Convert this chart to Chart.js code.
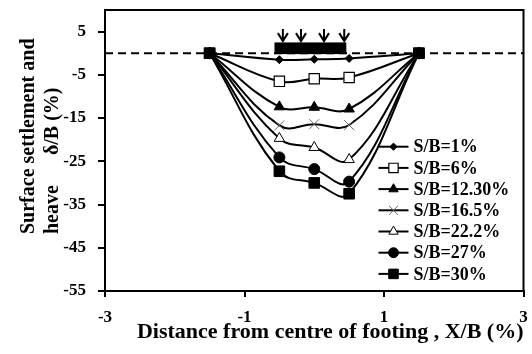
<!DOCTYPE html>
<html><head><meta charset="utf-8">
<script src="https://cdn.jsdelivr.net/npm/chart.js@4.4.1/dist/chart.umd.min.js"></script>
<style>html,body{margin:0;padding:0;background:#fff}canvas{display:block}</style>
</head><body>
<canvas id="c" width="532" height="354"></canvas>
<script>
// ---- data ----
const xPositions = [-1.5, -0.5, 0, 0.5, 1.5];
const seriesLabels = ['S/B=1%', 'S/B=6%', 'S/B=12.30%', 'S/B=16.5%', 'S/B=22.2%', 'S/B=27%', 'S/B=30%'];
const sb1  = [0, -1.5, -1.4, -1.2, 0];
const sb6  = [0, -6.5, -5.9, -5.6, 0];
const sb12 = [0, -12.4, -12.5, -12.9, 0];
const sb16 = [0, -16.7, -16.4, -16.6, 0];
const sb22 = [0, -19.7, -21.8, -24.6, 0];
const sb27 = [0, -24.1, -26.8, -29.7, 0];
const sb30 = [0, -27.3, -30.0, -32.5, 0];
const yTicks = [5, -5, -15, -25, -35, -45, -55];
const xTicks = [-3, -1, 1, 3];
const refLineX = [-3, 3];
const refLineY = [0, 0];
const footingX = [-0.57, 0.46];
const footingY = [-0.2, 2.5];
const arrowX = [-0.45, -0.19, 0.14, 0.43];
const arrowY = [5.6, 2.8];
const xTitle = 'Distance from centre of footing , X/B (%)';
const yTitleLines = ['Surface settlement and', 'heave      δ/B (%)'];

// ---- styles ----
const seriesValues = [sb1, sb6, sb12, sb16, sb22, sb27, sb30];
const markerStyles = [
  {pointStyle: 'rectRot', radius: 4, bg: '#000', border: '#000', bw: 1},
  {pointStyle: 'rect', radius: 7.3, bg: '#fff', border: '#000', bw: 1.2},
  {pointStyle: 'triangle', radius: 6, bg: '#000', border: '#000', bw: 1},
  {pointStyle: 'crossRot', radius: 7, bg: '#666', border: '#666', bw: 1},
  {pointStyle: 'triangle', radius: 6, bg: '#fff', border: '#000', bw: 1},
  {pointStyle: 'circle', radius: 5.5, bg: '#000', border: '#000', bw: 1},
  {pointStyle: 'rect', radius: 7.5, bg: '#000', border: '#000', bw: 1}
];
const FONT = '"Liberation Serif", "Times New Roman", serif';

const datasets = seriesValues.map((vals, i) => ({
  label: seriesLabels[i],
  data: xPositions.map((x, j) => ({x: x, y: vals[j]})),
  borderColor: '#000',
  borderWidth: 2,
  tension: 0.4,
  fill: false,
  pointStyle: markerStyles[i].pointStyle,
  pointRadius: markerStyles[i].radius,
  pointBackgroundColor: markerStyles[i].bg,
  pointBorderColor: markerStyles[i].border,
  pointBorderWidth: markerStyles[i].bw,
  order: 10 - i
}));
datasets.push({
  label: '',
  data: refLineX.map((x, j) => ({x: x, y: refLineY[j]})),
  borderColor: '#000',
  borderWidth: 2,
  borderDash: [8, 5],
  pointRadius: 0,
  tension: 0,
  order: 20
});

const decorPlugin = {
  id: 'decor',
  afterDatasetsDraw(chart) {
    const {ctx, chartArea: a, scales: {x, y}} = chart;
    ctx.save();
    // footing
    ctx.fillStyle = '#000';
    const fx0 = x.getPixelForValue(footingX[0]), fx1 = x.getPixelForValue(footingX[1]);
    const fy0 = y.getPixelForValue(footingY[1]), fy1 = y.getPixelForValue(footingY[0]);
    ctx.fillRect(fx0, fy0, fx1 - fx0, fy1 - fy0);
    // arrows
    ctx.strokeStyle = '#000';
    ctx.lineWidth = 2;
    ctx.lineCap = 'butt';
    const yTop = y.getPixelForValue(arrowY[0]), yTip = y.getPixelForValue(arrowY[1]);
    arrowX.forEach(v => {
      const px = x.getPixelForValue(v);
      ctx.beginPath();
      ctx.moveTo(px, yTop); ctx.lineTo(px, yTip);
      ctx.moveTo(px - 5, yTip - 8); ctx.lineTo(px, yTip); ctx.lineTo(px + 5, yTip - 8);
      ctx.stroke();
    });
    // frame
    ctx.lineWidth = 2;
    ctx.strokeRect(a.left, a.top, a.right - a.left, a.bottom - a.top);
    ctx.restore();
  },
  afterDraw(chart) {
    const {ctx, chartArea: a} = chart;
    ctx.save();
    // legend
    const lx0 = a.right - 145, lx1 = a.right - 115, tx = a.right - 110;
    const top = a.top + 136.7, step = 21.2;
    ctx.font = 'bold 18px ' + FONT;
    ctx.textBaseline = 'middle';
    ctx.textAlign = 'left';
    seriesLabels.forEach((lab, i) => {
      const yy = top + i * step;
      const ms = markerStyles[i];
      ctx.strokeStyle = '#000';
      ctx.lineWidth = 2;
      ctx.beginPath(); ctx.moveTo(lx0, yy); ctx.lineTo(lx1, yy); ctx.stroke();
      ctx.fillStyle = ms.bg; ctx.strokeStyle = ms.border; ctx.lineWidth = ms.bw;
      Chart.helpers.drawPoint(ctx, {pointStyle: ms.pointStyle, radius: ms.radius * 0.9, rotation: 0, borderWidth: ms.bw}, (lx0 + lx1) / 2, yy);
      ctx.fillStyle = '#000';
      ctx.fillText(lab, tx, yy + 1);
    });
    // y title
    ctx.font = 'bold 20px ' + FONT;
    ctx.fillStyle = '#000';
    ctx.textAlign = 'left';
    ctx.textBaseline = 'alphabetic';
    const baseX = [34, 58];
    yTitleLines.forEach((t, i) => {
      ctx.save();
      ctx.translate(baseX[i], 234);
      ctx.rotate(-Math.PI / 2);
      ctx.fillText(t, 0, 0);
      ctx.restore();
    });
    ctx.restore();
  }
};

const tickFont = {family: FONT, size: 17, weight: 'bold'};
new Chart(document.getElementById('c'), {
  type: 'line',
  data: {datasets: datasets},
  options: {
    responsive: false,
    animation: false,
    events: [],
    layout: {padding: {top: 10, right: 7, left: 0, bottom: 0}},
    plugins: {legend: {display: false}, tooltip: {enabled: false}},
    scales: {
      x: {
        type: 'linear', min: -3, max: 3,
        afterBuildTicks: s => { s.ticks = xTicks.map(v => ({value: v})); },
        afterFit: s => { s.height = 63; s.paddingLeft = 0; s.paddingRight = 0; },
        grid: {drawOnChartArea: false, drawTicks: true, tickLength: 6, color: '#000', lineWidth: 2},
        border: {color: '#000', width: 2},
        ticks: {font: tickFont, color: '#000', padding: 10, maxRotation: 0, autoSkip: false},
        title: {display: true, text: xTitle, align: 'end', color: '#000',
                font: {family: FONT, size: 22, weight: 'bold'}, padding: {top: 0, bottom: 8}}
      },
      y: {
        type: 'linear', min: -55, max: 10,
        afterBuildTicks: s => { s.ticks = yTicks.map(v => ({value: v})); },
        afterFit: s => { s.width = 105; s.paddingTop = 0; s.paddingBottom = 0; },
        grid: {drawOnChartArea: false, drawTicks: true, tickLength: 7, color: '#000', lineWidth: 2},
        border: {color: '#000', width: 2},
        ticks: {font: tickFont, color: '#000', padding: 12, autoSkip: false}
      }
    }
  },
  plugins: [decorPlugin]
});
</script>
</body></html>
